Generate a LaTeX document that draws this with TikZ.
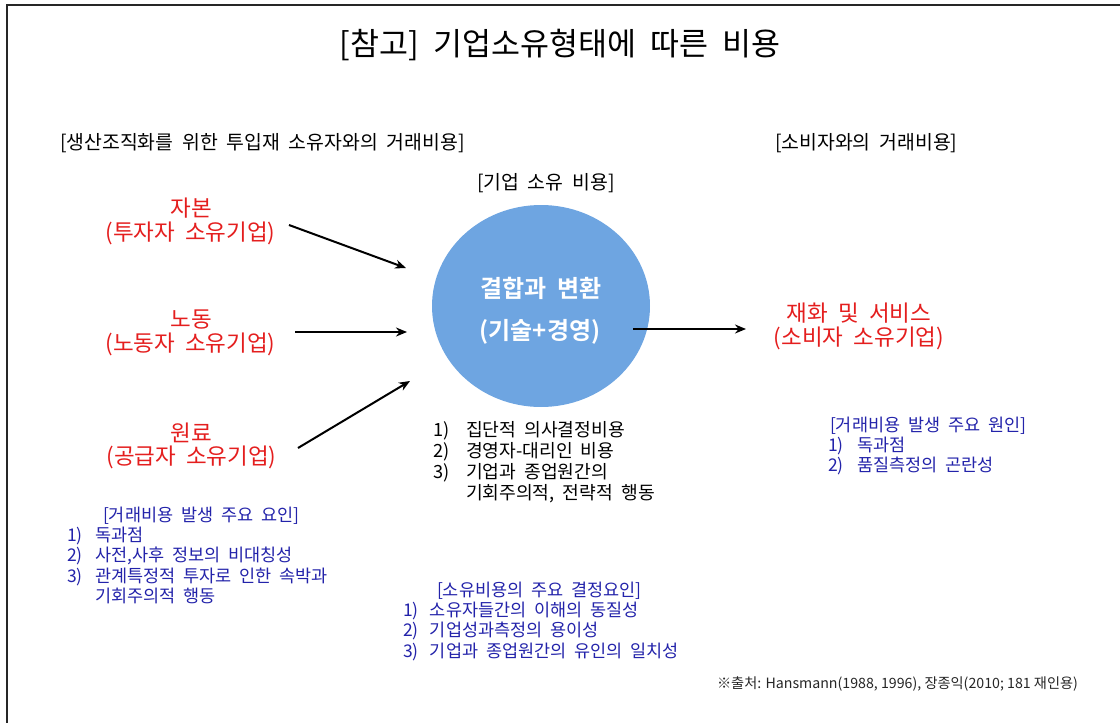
\documentclass[tikz,border=0pt]{standalone}
\usepackage{fontspec}
\setmainfont[WordSpace=2]{Noto Sans CJK KR}
\newfontfamily\krbold[WordSpace=2]{Noto Sans CJK KR Bold}
\newfontfamily\krplain{Noto Sans CJK KR}
\usetikzlibrary{arrows.meta,shapes.geometric}
\definecolor{circblue}{RGB}{110,165,225}
\definecolor{lblred}{RGB}{228,30,30}
\definecolor{lstblue}{RGB}{35,35,170}
\newcommand\pfx[2]{\makebox[#1pt][l]{#2}}
\begin{document}
\begin{tikzpicture}[x=1pt,y=-1pt,
  every node/.style={inner sep=0pt,outer sep=0pt},
  redlbl/.style={text=lblred,font=\fontsize{22.5}{27}\selectfont,anchor=base},
  bluelst/.style={text=lstblue,font=\fontsize{17.5}{21}\selectfont,anchor=base west},
  blklst/.style={text=black,font=\fontsize{18.2}{21}\selectfont,anchor=base west},
  hdr/.style={font=\fontsize{19.4}{22}\selectfont,anchor=base west},
  conn/.style={line width=2pt,-{Stealth[length=11pt,width=9pt]}}]
\useasboundingbox (0,0) rectangle (1120,723);
% frame
\draw[line width=2pt,black!85] (6.5,723) -- (6.5,5) -- (1120,5);
% title
\node (title) at (560,45) {\fontsize{31.5}{34}\selectfont [참고] 기업소유형태에 따른 비용};
% headers
\node[hdr] (hleft) at (60,149) {[생산조직화를 위한 투입재 소유자와의 거래비용]};
\node[hdr] (hright) at (775,149) {[소비자와의 거래비용]};
\node[hdr] (hmid) at (477,189) {[기업 소유 비용]};
% circle
\node[ellipse,fill=circblue,minimum width=218pt,minimum height=202pt] (circ) at (541,306) {};
\node[text=white,font=\krbold\fontsize{24}{28}\selectfont,anchor=base] (circt1) at (541,297) {결합과 변환};
\node[text=white,font=\krbold\fontsize{24}{28}\selectfont,anchor=base] (circt2) at (540,339) {(기술+경영)};
% red labels
\node[redlbl] (capital) at (191,216) {자본};
\node[redlbl] (capitalb) at (190.5,240) {(투자자 소유기업)};
\node[redlbl] (labor) at (191,327) {노동};
\node[redlbl] (laborb) at (190.5,351) {(노동자 소유기업)};
\node[redlbl] (material) at (191,441) {원료};
\node[redlbl] (materialb) at (191.5,464) {(공급자 소유기업)};
\node[redlbl] (goods) at (859,321) {재화 및 서비스};
\node[redlbl] (goodsb) at (859,345) {(소비자 소유기업)};
% arrow endpoints
\coordinate (c1s) at (289,225);
\coordinate (c1e) at (406,268);
\coordinate (c2s) at (295,332);
\coordinate (c2e) at (407,332);
\coordinate (c3s) at (298,448);
\coordinate (c3e) at (410,381);
\coordinate (c4s) at (633,329);
\coordinate (c4e) at (746,329);
\draw[conn] (c1s) -- (c1e);
\draw[conn] (c2s) -- (c2e);
\draw[conn] (c3s) -- (c3e);
\draw[conn] (c4s) -- (c4e);
% black list under circle
\node[blklst] (cl1) at (433,436) {\pfx{33}{1)}집단적 의사결정비용};
\node[blklst] (cl2) at (433,457) {\pfx{33}{2)}경영자-대리인 비용};
\node[blklst] (cl3) at (433,478) {\pfx{33}{3)}기업과 종업원간의};
\node[blklst] (cl4) at (466,499) {기회주의적, 전략적 행동};
% right blue list
\node[bluelst] (rl0) at (830,431) {[거래비용 발생 주요 원인]};
\node[bluelst] (rl1) at (828,451) {\pfx{29}{1)}독과점};
\node[bluelst] (rl2) at (828,471) {\pfx{29}{2)}품질측정의 곤란성};
% left blue list
\node[bluelst] (ll0) at (103,521) {[거래비용 발생 주요 요인]};
\node[bluelst] (ll1) at (67,541) {\pfx{28}{1)}독과점};
\node[bluelst] (ll2) at (67,561) {\pfx{28}{2)}사전,사후 정보의 비대칭성};
\node[bluelst] (ll3) at (67,582) {\pfx{28}{3)}관계특정적 투자로 인한 속박과};
\node[bluelst] (ll4) at (95,602) {기회주의적 행동};
% bottom blue list
\node[bluelst] (bl0) at (437,596) {[소유비용의 주요 결정요인]};
\node[bluelst] (bl1) at (403,616) {\pfx{27}{1)}소유자들간의 이해의 동질성};
\node[bluelst] (bl2) at (403,636) {\pfx{27}{2)}기업성과측정의 용이성};
\node[bluelst] (bl3) at (403,657) {\pfx{27}{3)}기업과 종업원간의 유인의 일치성};
% source
\node[anchor=base west,font=\krplain\fontsize{14.2}{16}\selectfont,text=black!85] (src) at (717,688) {※출처: Hansmann(1988, 1996), 장종익(2010; 181 재인용)};
\end{tikzpicture}
\end{document}
